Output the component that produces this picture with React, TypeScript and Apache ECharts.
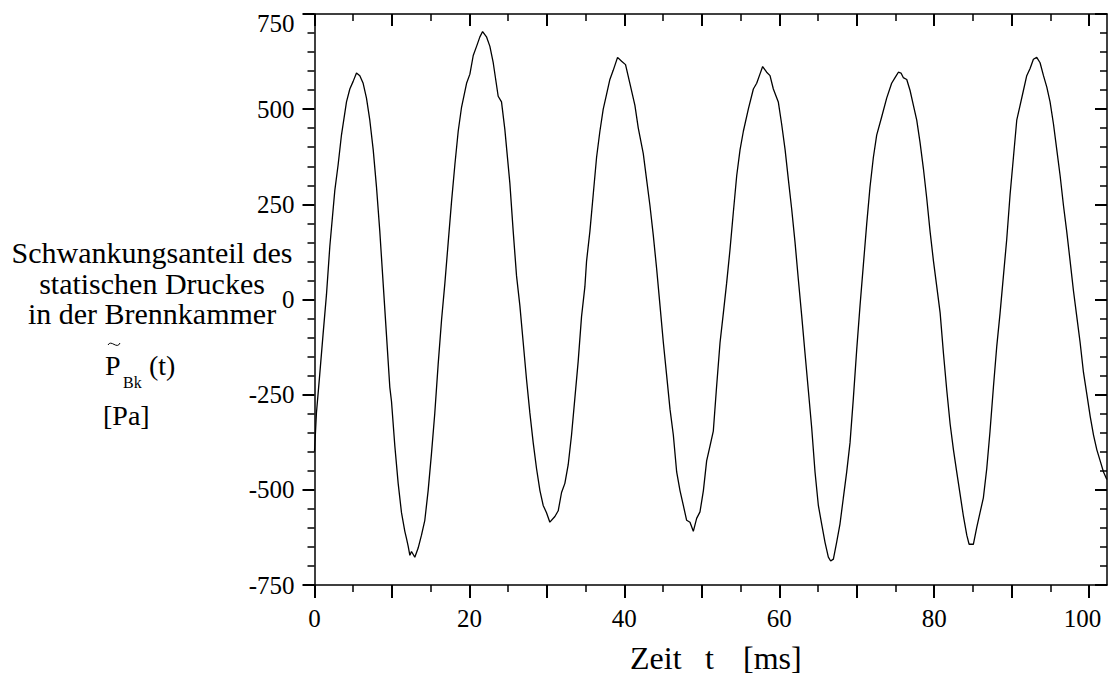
import React, { useEffect, useRef } from 'react';
import * as echarts from 'echarts';

// Time in ms and pressure fluctuation in Pa
const timeMs = [
  0, 0.25, 0.68, 1.1, 1.55, 1.98, 2.62, 3.05, 3.48, 4.13, 4.56, 4.99, 5.42, 5.85, 6.28, 6.71, 7.14, 7.58, 8.0, 8.43,
  8.86, 9.29, 9.72, 9.94, 10.37, 10.8, 11.23, 11.66, 11.88, 12.09, 12.31, 12.52, 12.95, 13.38, 13.81, 14.24, 14.67, 15.1, 15.53, 15.96,
  16.4, 16.83, 17.26, 17.69, 18.12, 18.55, 18.98, 19.63, 20.06, 20.49, 20.92, 21.35, 21.7, 22.2, 22.64, 23.07, 23.71, 24.14, 24.57, 25.22,
  25.65, 26.08, 26.51, 26.94, 27.37, 27.8, 28.23, 28.66, 29.1, 29.52, 29.95, 30.38, 31.03, 31.46, 31.89, 32.32, 32.75, 33.18, 33.61, 34.04,
  34.47, 34.9, 35.12, 35.55, 35.98, 36.41, 36.84, 37.27, 37.7, 38.13, 38.56, 39.12, 39.64, 40.15, 40.71, 41.36, 41.79, 42.44, 42.87, 43.3,
  43.73, 44.16, 44.6, 45.03, 45.46, 45.89, 46.32, 46.75, 47.18, 47.61, 48.04, 48.47, 48.9, 49.33, 49.76, 50.2, 50.62, 51.05, 51.48, 51.9,
  52.35, 52.78, 53.2, 53.63, 54.06, 54.5, 54.93, 55.36, 56.0, 56.65, 57.08, 57.5, 57.85, 58.37, 58.8, 59.23, 59.87, 60.3, 60.75, 61.17,
  61.6, 62.03, 62.46, 62.9, 63.32, 63.75, 64.18, 64.61, 65.04, 65.47, 65.9, 66.33, 66.63, 66.98, 67.4, 67.83, 68.26, 68.7, 69.13, 69.56,
  69.99, 70.42, 70.85, 71.28, 71.71, 72.14, 72.57, 73.22, 73.86, 74.5, 74.94, 75.37, 75.71, 76.0, 76.45, 76.88, 77.31, 77.74, 78.17, 78.6,
  79.03, 79.46, 79.9, 80.33, 80.76, 81.19, 81.62, 82.05, 82.48, 82.9, 83.34, 83.77, 84.2, 84.5, 85.05, 85.48, 85.91, 86.34, 86.78, 87.2,
  87.64, 88.07, 88.5, 88.93, 89.36, 89.79, 90.22, 90.65, 91.08, 91.51, 91.94, 92.37, 92.8, 93.23, 93.66, 94.1, 94.53, 94.95, 95.39, 95.82,
  96.25, 96.68, 97.1, 97.54, 97.97, 98.4, 98.83, 99.26, 99.7, 100.13, 100.56, 100.99, 101.42, 101.85, 102.28,
];
const pressurePa = [
  -400, -298, -196, -93, 14, 140, 286, 354, 432, 519, 553, 573, 595, 588, 568, 529, 471, 393, 296, 179,
  43, -93, -230, -268, -385, -483, -560, -609, -628, -648, -672, -662, -677, -653, -619, -580, -502, -405, -298, -171,
  -54, 43, 150, 257, 354, 442, 505, 568, 592, 641, 665, 690, 704, 690, 665, 622, 534, 519, 447, 305,
  179, 62, -16, -113, -210, -298, -376, -444, -502, -541, -560, -585, -570, -555, -507, -483, -434, -356, -259, -162,
  -45, 33, 101, 179, 276, 373, 442, 500, 539, 578, 602, 636, 626, 617, 568, 510, 451, 383, 315, 247,
  169, 82, -16, -113, -200, -288, -356, -453, -502, -541, -580, -585, -609, -575, -558, -502, -424, -385, -346, -230,
  -113, -35, 43, 130, 228, 325, 393, 442, 500, 553, 568, 592, 612, 597, 588, 553, 519, 461, 393, 315,
  237, 150, 52, -45, -142, -239, -337, -453, -541, -590, -638, -677, -687, -682, -638, -590, -522, -453, -376, -259,
  -132, -16, 91, 198, 296, 373, 432, 480, 529, 568, 583, 597, 595, 583, 578, 549, 510, 471, 412, 344,
  266, 179, 101, 33, -35, -142, -239, -327, -395, -453, -512, -570, -619, -643, -643, -599, -560, -521, -444, -346,
  -230, -123, -35, 62, 159, 276, 373, 471, 510, 549, 588, 607, 631, 636, 622, 588, 558, 519, 461, 393,
  325, 247, 179, 101, 23, -45, -113, -191, -249, -307, -356, -395, -424, -453, -473,
];

const xTickLabels = [0, 20, 40, 60, 80, 100];
const yTickLabels = [-750, -500, -250, 0, 250, 500, 750];
const yTitleLines = ['Schwankungsanteil des', 'statischen Druckes', 'in der Brennkammer'];
const symbolMain = 'P';
const symbolSub = 'Bk';
const symbolArg = '(t)';
const unitText = '[Pa]';
const xTitleParts = ['Zeit', 't', '[ms]'];

const SERIF = 'Liberation Serif';

export default function App() {
  const ref = useRef<HTMLDivElement>(null);

  useEffect(() => {
    if (!ref.current) return;
    const chart = echarts.init(ref.current, null, { renderer: 'svg' });
    const data = timeMs.map((t, i) => [t, pressurePa[i]]);
    const xMin = xTickLabels[0];
    const xMaxTick = xTickLabels[xTickLabels.length - 1];
    const yMin = yTickLabels[0];
    const yMax = yTickLabels[yTickLabels.length - 1];
    const black = '#000';
    const lblStyle = { fontSize: 25, fontFamily: SERIF, color: black };
    const txt = (text: string, x: number, y: number, size: number, align = 'left') => ({
      type: 'text', x, y,
      style: { text, fontSize: size, fontFamily: SERIF, fill: black, textAlign: align, textVerticalAlign: 'middle' },
    });
    const frameLine = { show: true, onZero: false, lineStyle: { color: black, width: 1.5 } };

    const option: any = {
      animation: false,
      backgroundColor: '#fff',
      textStyle: { fontFamily: SERIF },
      grid: [
        { left: 314.5, right: 6, top: 14, bottom: 90, containLabel: false },
        { left: 314.5, width: 774.6, top: 14, bottom: 90, containLabel: false },
      ],
      xAxis: [
        {
          gridIndex: 0, type: 'value', position: 'bottom', min: xMin, max: 102.3,
          axisLine: frameLine, axisTick: { show: false }, axisLabel: { show: false }, splitLine: { show: false },
        },
        {
          gridIndex: 0, type: 'value', position: 'top', min: xMin, max: 102.3,
          axisLine: frameLine, axisTick: { show: false }, axisLabel: { show: false }, splitLine: { show: false },
        },
        {
          gridIndex: 1, type: 'value', position: 'bottom', min: xMin, max: xMaxTick, interval: 10,
          axisLine: { show: false, onZero: false },
          axisTick: { show: true, inside: false, length: 13, lineStyle: { color: black, width: 2 } },
          minorTick: { show: true, splitNumber: 2, length: 7, lineStyle: { color: black, width: 1.5 } },
          splitLine: { show: false },
          axisLabel: {
            ...lblStyle, margin: 21,
            formatter: (v: number) => (xTickLabels.includes(v) ? (v === xMaxTick ? '{end|' + v + '}' : String(v)) : ''),
            rich: { end: { ...lblStyle, padding: [0, 13, 0, 0] } },
          },
        },
        {
          gridIndex: 1, type: 'value', position: 'top', min: xMin, max: xMaxTick, interval: 10,
          axisLine: { show: false, onZero: false },
          axisTick: { show: true, inside: true, length: 12, lineStyle: { color: black, width: 2 } },
          minorTick: { show: true, splitNumber: 2, length: 7, lineStyle: { color: black, width: 1.5 } },
          splitLine: { show: false }, axisLabel: { show: false },
        },
      ],
      yAxis: [
        {
          gridIndex: 0, type: 'value', position: 'left', min: yMin, max: yMax, interval: 250,
          axisLine: frameLine,
          axisTick: { show: true, inside: false, length: 12, lineStyle: { color: black, width: 2 } },
          minorTick: { show: true, splitNumber: 5, length: 7, lineStyle: { color: black, width: 1.5 } },
          splitLine: { show: false },
          axisLabel: {
            ...lblStyle, margin: 20,
            formatter: (v: number) => (v === yMax ? '{top|' + v + '}' : String(v)),
            rich: { top: { ...lblStyle, padding: [18, 0, 0, 0] } },
          },
        },
        {
          gridIndex: 0, type: 'value', position: 'right', min: yMin, max: yMax, interval: 250,
          axisLine: frameLine,
          axisTick: { show: true, inside: true, length: 12, lineStyle: { color: black, width: 2 } },
          minorTick: { show: true, splitNumber: 5, length: 7, lineStyle: { color: black, width: 1.5 } },
          splitLine: { show: false }, axisLabel: { show: false },
        },
        { gridIndex: 1, type: 'value', min: yMin, max: yMax, show: false },
      ],
      series: [
        {
          type: 'line', xAxisIndex: 0, yAxisIndex: 0, data, showSymbol: false, symbol: 'none',
          lineStyle: { color: black, width: 1.3 }, clip: true, silent: true,
        },
      ],
      graphic: [
        txt(yTitleLines[0], 152, 252.5, 30, 'center'),
        txt(yTitleLines[1], 152, 283, 30, 'center'),
        txt(yTitleLines[2], 152, 313.5, 30, 'center'),
        {
          type: 'bezierCurve',
          shape: { x1: 108, y1: 345, cpx1: 111, cpy1: 339, cpx2: 117, cpy2: 350, x2: 120, y2: 343 },
          style: { stroke: black, lineWidth: 1, fill: null },
        },
        txt(symbolMain, 105, 365.5, 28),
        txt(symbolSub, 123, 382.5, 16),
        txt(symbolArg, 149, 365.5, 28),
        txt(unitText, 103, 415.5, 28),
        txt(xTitleParts[0], 630, 658, 32),
        txt(xTitleParts[1], 705, 658, 32),
        txt(xTitleParts[2], 743, 658, 32),
      ],
    };
    chart.setOption(option);
    return () => chart.dispose();
  }, []);

  return <div ref={ref} style={{ position: 'absolute', left: 0, top: 0, width: 1113, height: 675, background: '#fff' }} />;
}
